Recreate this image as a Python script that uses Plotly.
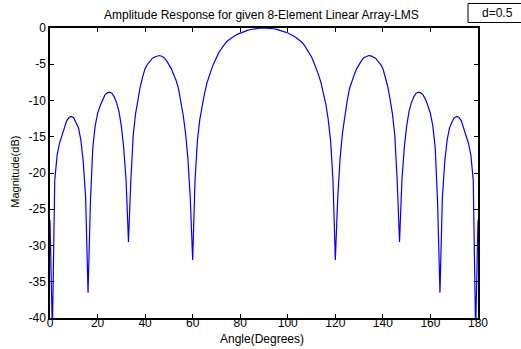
import plotly.graph_objects as go

angles = list(range(0, 181))

mag_left = [
    -26.5, -42.0, -21.0, -17.5, -15.9, -14.9, -13.7, -12.8, -12.35, -12.2,
    -12.4, -13.0, -13.8, -15.5, -18.5, -23.5, -36.5, -24.0, -16.5, -13.5,
    -11.8, -10.8, -9.9, -9.3, -8.95, -8.85, -9.0, -9.5, -10.3, -11.5,
    -13.5, -16.5, -21.0, -29.5, -21.0, -14.8, -11.8, -9.8, -8.0, -6.7,
    -5.6, -5.0, -4.6, -4.2, -4.0, -3.85, -3.8, -3.9, -4.1, -4.5,
    -5.0, -5.6, -6.4, -7.2, -8.3, -10.0, -12.0, -14.5, -18.0, -23.5,
    -32.0, -21.0, -15.5, -12.6, -10.5, -9.0, -7.6, -6.5, -5.6, -4.8,
    -4.0, -3.4, -2.9, -2.4, -2.0, -1.7, -1.45, -1.2, -1.0, -0.85,
    -0.7, -0.56, -0.44, -0.33, -0.24, -0.16, -0.1, -0.05, -0.02, 0.0,
    0.0,
]
mag_right = [
    -0.0, -0.02, -0.05, -0.1, -0.16, -0.24, -0.33, -0.44, -0.56, -0.7,
    -0.85, -1.0, -1.2, -1.45, -1.7, -2.0, -2.4, -2.9, -3.4, -4.0,
    -4.8, -5.6, -6.5, -7.6, -9.0, -10.5, -12.6, -15.5, -21.0, -32.0,
    -23.5, -18.0, -14.5, -12.0, -10.0, -8.3, -7.2, -6.4, -5.6, -5.0,
    -4.5, -4.1, -3.9, -3.8, -3.85, -4.0, -4.2, -4.6, -5.0, -5.6,
    -6.7, -8.0, -9.8, -11.8, -14.8, -21.0, -29.5, -21.0, -16.5, -13.5,
    -11.5, -10.3, -9.5, -9.0, -8.85, -8.95, -9.3, -9.9, -10.8, -11.8,
    -13.5, -16.5, -24.0, -36.5, -23.5, -18.5, -15.5, -13.8, -13.0, -12.4,
    -12.2, -12.35, -12.8, -13.7, -14.9, -15.9, -17.5, -21.0, -42.0, -26.5,
]
magnitude = mag_left + mag_right

x_ticks = [0, 20, 40, 60, 80, 100, 120, 140, 160, 180]
y_ticks = [0, -5, -10, -15, -20, -25, -30, -35, -40]

FONT = "Liberation Sans, Arial, Helvetica, sans-serif"

fig = go.Figure()
fig.add_trace(go.Scatter(x=angles, y=magnitude, mode="lines",
                         line=dict(color="#0000ff", width=1.2),
                         showlegend=False, hoverinfo="skip"))

axis_common = dict(showgrid=False, zeroline=False, showline=True, mirror="ticks",
                   linecolor="black", linewidth=1.5, ticks="inside", ticklen=4,
                   tickcolor="black", tickwidth=1,
                   tickfont=dict(family=FONT, size=12, color="black"))

fig.update_xaxes(range=[0, 180], tickvals=x_ticks, ticktext=[str(v) for v in x_ticks],
                 ticklabelstandoff=-7, **axis_common)
fig.update_yaxes(range=[-40, 0], tickvals=y_ticks, ticktext=[str(v) for v in y_ticks],
                 **axis_common)

fig.update_layout(
    width=521, height=349,
    margin=dict(l=50, r=43, t=28, b=31),
    paper_bgcolor="white", plot_bgcolor="white",
    font=dict(family=FONT, size=12, color="black"),
    shapes=[dict(type="rect", xref="paper", yref="paper",
                 x0=(468 - 50) / 428, x1=(530 - 50) / 428,
                 y0=(318 - 23) / 289.5, y1=(318 - 4) / 289.5,
                 line=dict(color="black", width=1), fillcolor="white")],
    annotations=[
        dict(text="Amplitude Response for given 8-Element Linear Array-LMS",
             xref="paper", yref="paper", x=(261.5 - 50) / 428, y=(318 - 16) / 289.5,
             xanchor="center", yanchor="middle", showarrow=False,
             font=dict(family=FONT, size=12, color="black")),
        dict(text="d=0.5", xref="paper", yref="paper",
             x=(480 - 50) / 428, y=(318 - 14) / 289.5,
             xanchor="left", yanchor="middle", showarrow=False,
             font=dict(family=FONT, size=12, color="black")),
        dict(text="Angle(Degrees)", xref="paper", yref="paper",
             x=(262 - 50) / 428, y=(318 - 339) / 289.5,
             xanchor="center", yanchor="middle", showarrow=False,
             font=dict(family=FONT, size=12, color="black")),
        dict(text="Magnitude(dB)", xref="paper", yref="paper",
             x=(15 - 50) / 428, y=(318 - 172) / 289.5, textangle=-90,
             xanchor="center", yanchor="middle", showarrow=False,
             font=dict(family=FONT, size=11, color="black")),
    ],
)

fig.write_html("out.html", config={"displayModeBar": False},
               post_script="document.body.style.margin='0';document.body.style.overflow='hidden';")
